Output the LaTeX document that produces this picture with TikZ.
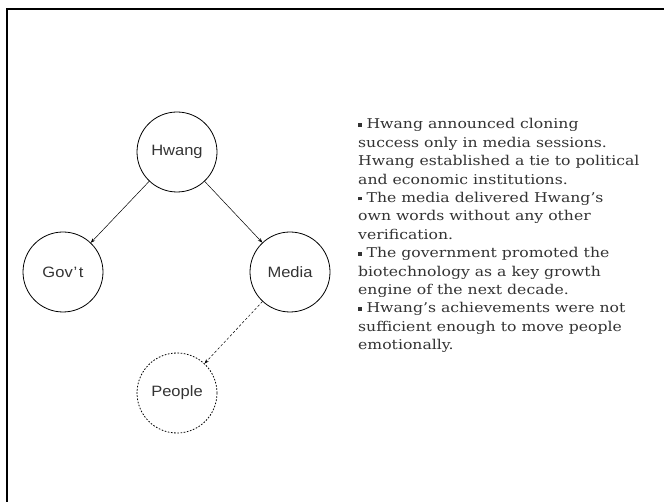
\documentclass[tikz,border=0pt]{standalone}
\usepackage{fontspec}
\usetikzlibrary{arrows.meta}
\newfontfamily\bodyfont[FakeStretch=1.16]{DejaVu Serif}
\newfontfamily\labelfont[FakeStretch=1.1]{Liberation Sans}
\definecolor{txtgray}{gray}{0.2}
\tikzset{
  actor/.style={circle,draw,line width=0.8pt,minimum size=80pt,inner sep=0pt,
    font=\labelfont\fontsize{15}{15}\selectfont,text=txtgray},
  hidden/.style={actor,dashed,dash pattern=on 1.6pt off 1.6pt},
  link/.style={line width=0.5pt,-{Stealth[length=4.5pt,width=3.5pt]}},
  weaklink/.style={link,dash pattern=on 2.5pt off 2pt},
  bodyline/.style={anchor=base west,inner sep=0pt,text=txtgray,
    font=\bodyfont\fontsize{13.5}{18}\selectfont},
}
\newcommand{\bul}{\raisebox{2.2pt}{\rule{3.4pt}{3.4pt}}\ }
\begin{document}
\begin{tikzpicture}[x=1pt,y=-1pt]
\useasboundingbox (0,0) rectangle (664,502);
\draw[line width=2pt] (6.5,510) -- (6.5,9) -- (670,9);
\node[actor] (hwang) at (177,152) {Hwang};
\node[actor] (gov) at (63,272) {Gov\kern1pt’\kern1.5pt t};
\node[actor] (media) at (290,272) {Media};
\node[hidden] (people) at (177,393) {People};
\draw[link] (hwang) -- (gov);
\draw[link] (hwang) -- (media);
\draw[weaklink] (media) -- (people);
\foreach \t [count=\i] in {
  {\bul Hwang announced cloning},
  {success only in media sessions.},
  {Hwang established a tie to political},
  {and economic institutions.},
  {\bul The media delivered Hwang’s},
  {own words without any other},
  {verification.},
  {\bul The government promoted the},
  {biotechnology as a key growth},
  {engine of the next decade.},
  {\bul Hwang’s achievements were not},
  {sufficient enough to move people},
  {emotionally.}}
  \node[bodyline] (line\i) at (358,{129+18.4*(\i-1)}) {\t};
\end{tikzpicture}
\end{document}
